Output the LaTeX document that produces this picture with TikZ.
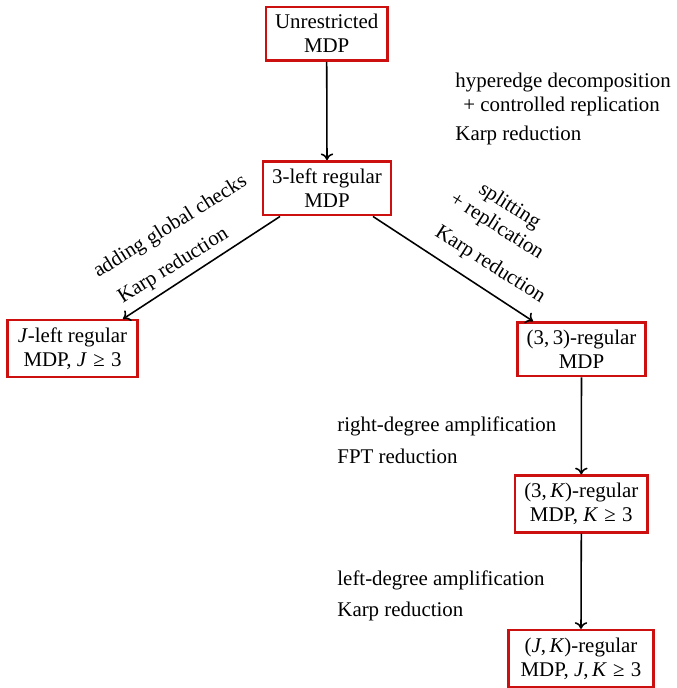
\documentclass[tikz,border=0pt]{standalone}
\usepackage{fontspec}
\setmainfont{Liberation Serif}
\usetikzlibrary{arrows.meta}
\definecolor{boxred}{RGB}{204,16,16}
\newcommand{\geqs}{\hspace{0.3em}≥\hspace{0.3em}}
\begin{document}
\begin{tikzpicture}[x=0.4785pt,y=-0.4785pt,
  every node/.style={font=\fontsize{10}{11.5}\selectfont},
  mdpbox/.style={draw=boxred,line width=1.2pt,align=center,inner xsep=4.4pt,inner ysep=3.6pt,fill=white},
  redarrow/.style={-{To[length=3.2pt,width=6pt]},line width=0.75pt,black},
  lab/.style={inner sep=0pt,anchor=base west},
  slab/.style={inner sep=0pt,align=center}]
\useasboundingbox (0,0) rectangle (676,688);
\node[mdpbox] (U) at (326.7,33.7) {Unrestricted\\MDP};
\node[mdpbox] (L3) at (327,188.3) {3-left regular\\MDP};
\node[mdpbox,inner xsep=5pt] (JL) at (72.5,348.7) {\textit{J}-left regular\\MDP, \textit{J}\geqs3};
\node[mdpbox] (R33) at (581.5,349.3) {(3,\,3)-regular\\MDP};
\node[mdpbox] (R3K) at (581.3,504) {(3,\,\textit{K})-regular\\MDP, \textit{K}\geqs3};
\node[mdpbox,inner xsep=5.8pt] (RJK) at (581,658.5) {(\textit{J},\,\textit{K})-regular\\MDP, \textit{J},\,\textit{K}\geqs3};

\draw[redarrow] (U.south) -- (L3.north);
\draw[redarrow] ([xshift=-47*0.4785pt]L3.south) -- ([xshift=50.5*0.4785pt]JL.north);
\draw[redarrow] ([xshift=46*0.4785pt]L3.south) -- ([xshift=-48.5*0.4785pt]R33.north);
\draw[redarrow] (R33.south) -- (R3K.north);
\draw[redarrow] (R3K.south) -- (RJK.north);

\node[lab] (t1) at (455,87) {hyperedge decomposition};
\node[lab] (t2) at (463,111.7) {+ controlled replication};
\node[lab] (t3) at (455,140) {Karp reduction};

\node[slab,rotate=32] (t4) at (170.5,227) {adding global checks};
\node[slab,rotate=32] (t5) at (173.5,266) {Karp reduction};

\node[slab,rotate=-32.5] (t6) at (503,216.5) {splitting\\+ replication};
\node[slab,rotate=-32.5] (t7) at (490,265) {Karp reduction};

\node[lab] (t8) at (337,431.7) {right-degree amplification};
\node[lab] (t9) at (337,463.3) {FPT reduction};
\node[lab] (t10) at (337,585) {left-degree amplification};
\node[lab] (t11) at (337,616.7) {Karp reduction};
\end{tikzpicture}
\end{document}
